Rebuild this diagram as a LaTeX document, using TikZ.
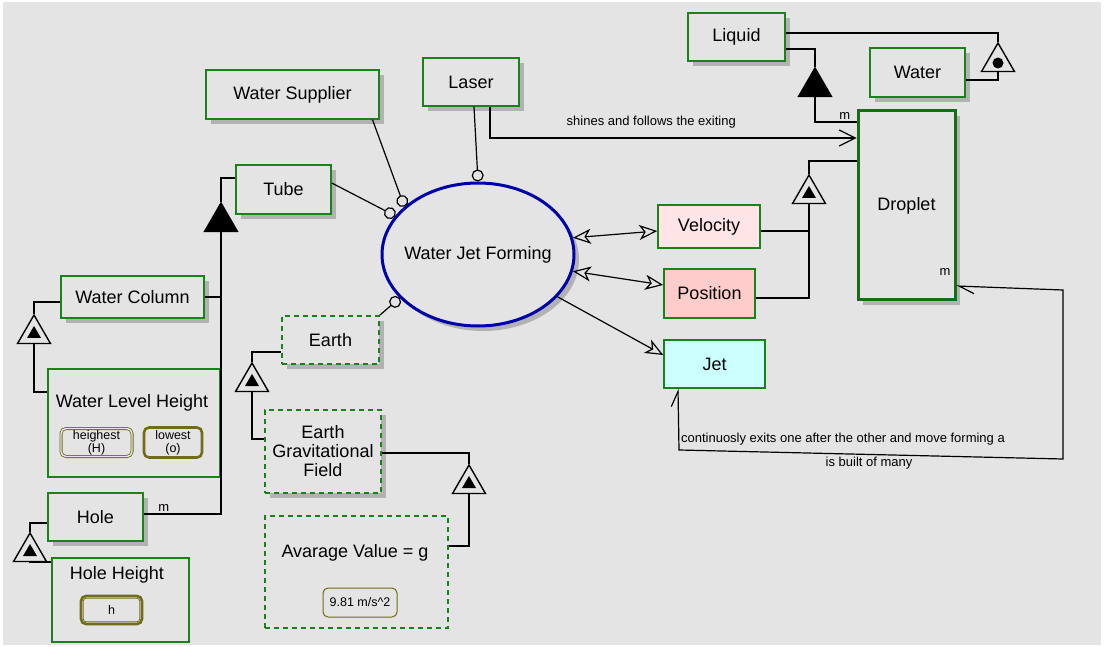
\documentclass[tikz,border=0pt]{standalone}
\usepackage{fontspec}
\setmainfont{Liberation Sans}
\usetikzlibrary{positioning}
\usetikzlibrary{arrows.meta,shapes.geometric,shadows}

\definecolor{bg}{RGB}{228,228,228}
\definecolor{objgreen}{RGB}{25,130,25}
\definecolor{procblue}{RGB}{0,0,168}
\definecolor{olive}{RGB}{112,108,24}
\definecolor{velfill}{RGB}{255,229,229}
\definecolor{posfill}{RGB}{255,204,204}
\definecolor{jetfill}{RGB}{204,255,255}

\begin{document}
\begin{tikzpicture}[x=1pt,y=-1pt,line width=1.2pt,
                    every node/.style={font=\fontsize{18}{19}\selectfont}]
  \tikzstyle{obj}=[rectangle,draw=objgreen,line width=1.5pt,fill=bg,inner sep=0pt]
  \tikzstyle{shad}=[drop shadow={shadow xshift=5pt,shadow yshift=-5pt,fill=black!30,opacity=1}]
  \tikzstyle{env}=[obj,dash pattern=on 5pt off 4pt]
  \tikzstyle{stt}=[rectangle,rounded corners=5pt,draw=olive,fill=bg,inner sep=0pt,
                   align=center,font=\fontsize{12.5}{13}\selectfont]
  \tikzstyle{tri}=[regular polygon,regular polygon sides=3,minimum size=38pt,
                   inner sep=0pt,draw=black,line width=1.4pt,fill=bg]
  \tikzstyle{aggr}=[tri,fill=black]
  \tikzstyle{lbl}=[font=\fontsize{13}{14}\selectfont,inner sep=1pt]
  \tikzstyle{res}=[-{Stealth[open,fill=bg,length=18pt,width=15pt,inset=5pt]}]
  \tikzstyle{eff}=[{Stealth[open,fill=bg,length=18pt,width=15pt,inset=5pt]}-{Stealth[open,fill=bg,length=18pt,width=15pt,inset=5pt]}]
  \tikzstyle{inst}=[-{Circle[open,fill=bg,length=12pt]}]

  % frame
  \fill[white] (0,0) rectangle (1104,647);
  \fill[bg] (3,2) rectangle (1101,645);

  % objects
  \node[obj,shad,minimum width=97pt,minimum height=48pt]   (liquid)  at (736.5,37)  {Liquid};
  \node[obj,shad,minimum width=95pt,minimum height=49pt]   (water)   at (917.5,72.5) {Water};
  \node[obj,shad,minimum width=96pt,minimum height=48pt]   (laser)   at (471,82)    {Laser};
  \node[obj,shad,minimum width=173pt,minimum height=49pt]  (wsup)    at (292.5,94.5) {Water Supplier};
  \node[obj,shad,minimum width=95pt,minimum height=49pt]   (tube)    at (283.5,189.5) {Tube};
  \node[obj,shad,line width=3pt,draw=objgreen!85!black,minimum width=97pt,minimum height=189pt]
                                                            (droplet) at (906.5,205.5) {Droplet};
  \node[obj,fill=velfill,minimum width=102pt,minimum height=43pt] (velocity) at (709,226.5) {Velocity};
  \node[obj,fill=posfill,minimum width=91pt,minimum height=49pt]  (position) at (709.5,293.5) {Position};
  \node[obj,fill=jetfill,minimum width=101pt,minimum height=48pt] (jet)      at (714.5,364) {Jet};
  \node[obj,shad,minimum width=143pt,minimum height=42pt]  (watercol) at (132.5,297) {Water Column};

  \node[obj,minimum width=172pt,minimum height=108pt] (wlh) at (134,423) {};
  \node (wlhT) at (132,403) {Water Level Height};
  \node[stt,double=bg,double distance=1.4pt,line width=0.8pt,minimum width=71pt,minimum height=28pt]
        (highest) at (96.5,442.5) {heighest\\(H)};
  \node[stt,line width=2.6pt,minimum width=58pt,minimum height=30pt] (lowest) at (173,442.5) {lowest\\(o)};

  \node[obj,shad,minimum width=95pt,minimum height=48pt]   (hole)  at (95.5,517)  {Hole};
  \node[obj,minimum width=137pt,minimum height=84pt]       (holeh) at (120.5,600) {};
  \node (holehT) at (117,575) {Hole Height};
  \node[stt,line width=2.6pt,minimum width=61pt,minimum height=28pt] (hval) at (111.5,610) {h};
  \draw[olive,line width=0.8pt,rounded corners=3pt] ([shift={(3.5pt,-3.5pt)}]hval.north west)
        rectangle ([shift={(-3.5pt,3.5pt)}]hval.south east);

  \node[env,shad,minimum width=97pt,minimum height=48pt]  (earth) at (330.5,340) {Earth};
  \node[env,shad,minimum width=116pt,minimum height=83pt,align=center] (egf) at (323,451.5)
        {Earth\\Gravitational\\Field};
  \node[env,minimum width=183pt,minimum height=112pt]     (avg)   at (356.5,572) {};
  \node (avgT) at (355,553) {Avarage Value = g};
  \node[stt,line width=1pt,minimum width=74pt,minimum height=29pt] (gval) at (360,602.5) {9.81 m/s\^{}2};

  % process
  \node[ellipse,draw=procblue,line width=3pt,fill=bg,shad,minimum width=192pt,minimum height=143pt,
        inner sep=0pt] (wjf) at (478,254.5) {\makebox[0pt]{Water Jet Forming}};

  % structural triangles
  \node[aggr] (agLiquid)  at (815,87)  {};
  \node[tri]  (clLiquid)  at (998,62)  {};
  \node[tri]  (exDroplet) at (809,194) {};
  \node[aggr] (agTube)    at (221,222) {};
  \node[tri]  (exWC)      at (34,334)  {};
  \node[tri]  (exHole)    at (30,552)  {};
  \node[tri]  (exEarth)   at (252,382) {};
  \node[tri]  (exEGF)     at (469,484) {};
  \foreach \t in {exDroplet,exWC,exHole,exEarth,exEGF}
    \fill ([yshift=8pt]\t.center) -- ([shift={(-7pt,-4pt)}]\t.center)
          -- ([shift={(7pt,-4pt)}]\t.center) -- cycle;
  \fill ([yshift=-1pt]clLiquid.center) circle (5.5pt);

  % structural links
  \draw ([yshift=4pt]liquid.east) -| (clLiquid.corner 1);
  \draw (clLiquid.side 2) |- ([yshift=-7.5pt]water.east);
  \draw ([yshift=-12pt]liquid.east) -| (agLiquid.corner 1);
  \draw (agLiquid.side 2) |- (droplet.west |- 0,122) node[lbl,pos=0.86,above=1pt] {m};
  \draw (exDroplet.corner 1) |- (droplet.west |- 0,161);
  \draw ([yshift=-4.5pt]velocity.east) -| (exDroplet.side 2);
  \draw ([yshift=-4.5pt]position.east) -| (exDroplet.side 2);

  \draw (agTube.corner 1) |- ([yshift=11.5pt]tube.west);
  \draw ([yshift=3pt]hole.east) -| node[lbl,pos=0.13,above=1pt] {m} (agTube.side 2);
  \draw (watercol.east) -- (agTube.side 2 |- watercol.east);
  \draw (exWC.corner 1) |- ([yshift=-5pt]watercol.west);
  \draw (exWC.side 2) |- ([yshift=31pt]wlh.west);
  \draw (exHole.corner 1) |- ([yshift=-6pt]hole.west);
  \draw (exHole.side 2) |- ([yshift=38pt]holeh.west);
  \draw (exEarth.corner 1) |- ([yshift=-12pt]earth.west);
  \draw (exEarth.side 2) |- ([yshift=12.5pt]egf.west);
  \draw (exEGF.corner 1) |- ([yshift=-1.5pt]egf.east);
  \draw (exEGF.side 2) |- ([yshift=26pt]avg.east);

  % procedural links
  \draw[inst] ([xshift=3pt]laser.south) -- (wjf.north);
  \draw[inst] ([xshift=80pt]wsup.south) -- (wjf.147);
  \draw[inst] ([yshift=6.5pt]tube.east) -- (wjf.155);
  \draw[inst] (earth.north east) -- (wjf.209);
  \draw[eff] (wjf.10) -- ([yshift=-4.5pt]velocity.west);
  \draw[eff] (wjf.350) -- ([yshift=8.5pt]position.west);
  \draw[res] (wjf.332) -- ([yshift=9pt]jet.west);

  \draw[-{Straight Barb[length=16pt,width=16pt]}] ([xshift=19pt]laser.south) |- (droplet.west |- 0,138)
        node[lbl,pos=0.72,above=8pt] {shines and follows the exiting};

  \coordinate (bendA) at (1063,290);
  \coordinate (bendB) at (1063,459);
  \coordinate (bendC) at (679,450);
  \draw[{Straight Barb[harpoon,length=15pt,width=14pt]}-{Straight Barb[harpoon,length=15pt,width=14pt]}]
        ([yshift=-80.5pt]droplet.east) -- (bendA) -- (bendB)
        -- node[lbl,pos=0.573,above=7pt] {continuosly exits one after the other and move forming a}
           node[lbl,pos=0.505,below=1pt] {is built of many} (bendC)
        -- ([xshift=-36.5pt]jet.south);
  \node[lbl] (dropM) at (945,272) {m};

\end{tikzpicture}
\end{document}
